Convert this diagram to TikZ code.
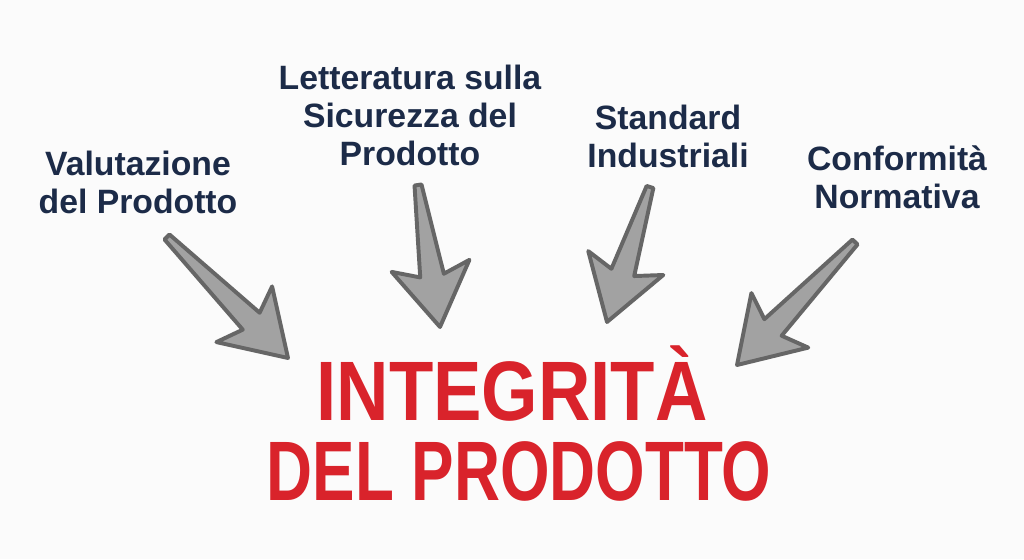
\documentclass[tikz,border=0pt]{standalone}
\usepackage{fontspec}
\setmainfont{Liberation Sans}
\usetikzlibrary{calc}
\definecolor{navy}{HTML}{1C2B48}
\definecolor{titlered}{HTML}{D9232B}
\definecolor{arrowfill}{HTML}{A2A2A2}
\definecolor{arrowline}{HTML}{666666}

\newcommand{\grayarrow}[2]{%
  \draw[arrowline, fill=arrowfill, line width=2.8pt, line join=round]
    (#2) -- ($(#2)!44pt!(#1)!28pt!90:(#1)$) -- ($(#2)!37pt!(#1)!8.5pt!90:(#1)$)
    -- ($(#1)!2.5pt!-90:(#2)$) -- ($(#1)!2.5pt!90:(#2)$)
    -- ($(#2)!37pt!(#1)!8.5pt!-90:(#1)$) -- ($(#2)!44pt!(#1)!28pt!-90:(#1)$) -- cycle;}

\begin{document}
\begin{tikzpicture}[x=0.025cm, y=-0.025cm,
    topic/.style={text=navy, align=center, font=\fontsize{24}{27}\selectfont\bfseries},
    headline/.style={text=titlered, anchor=base, font=\fontsize{60}{60}\selectfont\bfseries}]
        \fill[gray!3] (0,0) rectangle (1024,559);
        \node[topic] (valut) at (138,182) {Valutazione\\del Prodotto};
        \node[topic] (lett) at (410,115) {Letteratura sulla\\Sicurezza del\\Prodotto};
        \node[topic] (stand) at (668,136) {Standard\\Industriali};
        \node[topic] (conf) at (897,177) {Conformità\\Normativa};
        \node[headline] (integ) at (512,420) {\scalebox{0.86}[1]{INTEGRITÀ}};
        \node[headline] (prod) at (519,500) {\scalebox{0.755}[1]{DEL PRODOTTO}};
        \coordinate (t1) at (167,237);
        \coordinate (h1) at (288,358);
        \coordinate (t2) at (418,185);
        \coordinate (h2) at (440,327);
        \coordinate (t3) at (650,187);
        \coordinate (h3) at (607,322);
        \coordinate (t4) at (855,242);
        \coordinate (h4) at (737,365);
        \grayarrow{t1}{h1}
        \grayarrow{t2}{h2}
        \grayarrow{t3}{h3}
        \grayarrow{t4}{h4}
    \end{tikzpicture}
\end{document}
